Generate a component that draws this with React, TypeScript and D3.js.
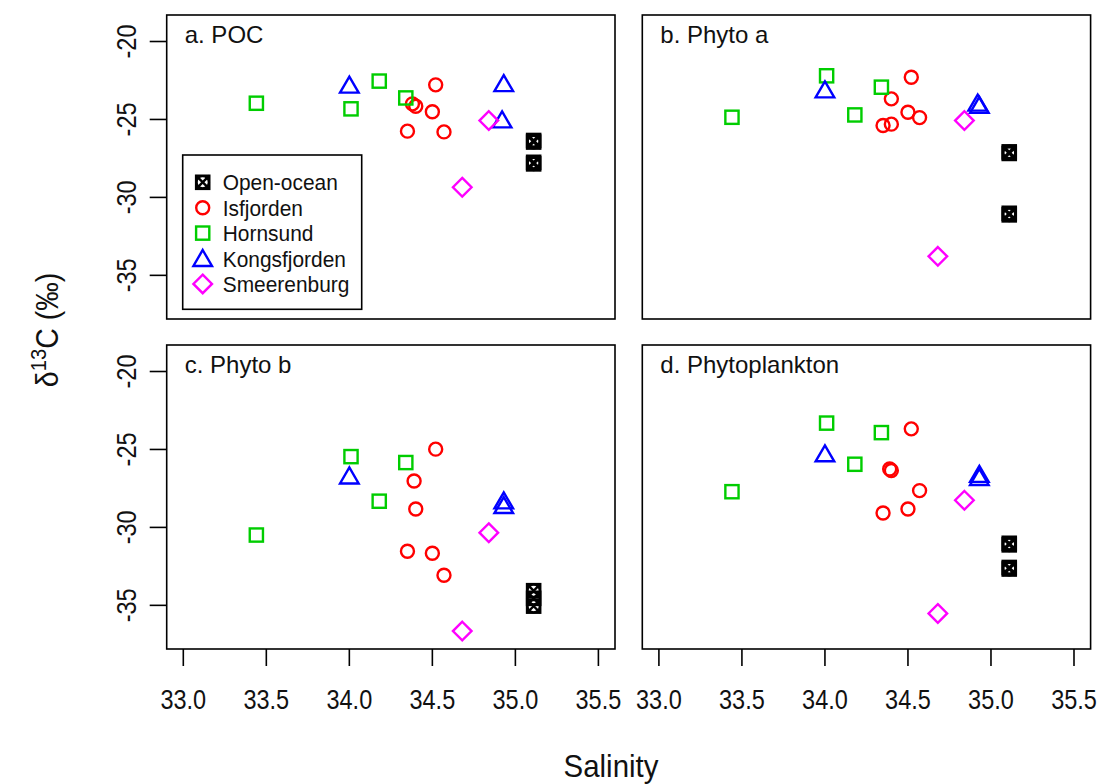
import React from "react";
import * as d3 from "d3";

// ---------- data ----------
const sites = ["Open-ocean", "Isfjorden", "Hornsund", "Kongsfjorden", "Smeerenburg"];
const siteColors = ["#000000", "#ff0000", "#00cd00", "#0000ff", "#ff00ff"];
const siteShapes = ["ocean", "circle", "square", "triangle", "diamond"];

const xTicks = [33.0, 33.5, 34.0, 34.5, 35.0, 35.5];
const yTicks = [-20, -25, -30, -35];
const xDomain = [32.9, 35.6];
const yDomain = [-37.8, -18.3];

type Pt = { site: string; sal: number; d13c: number };

const pocPoints: Pt[] = [
  { site: "Open-ocean", sal: 35.11, d13c: -26.35 },
  { site: "Open-ocean", sal: 35.11, d13c: -26.45 },
  { site: "Open-ocean", sal: 35.11, d13c: -27.75 },
  { site: "Open-ocean", sal: 35.11, d13c: -27.85 },
  { site: "Isfjorden", sal: 34.38, d13c: -24.0 },
  { site: "Isfjorden", sal: 34.4, d13c: -24.15 },
  { site: "Isfjorden", sal: 34.52, d13c: -22.78 },
  { site: "Isfjorden", sal: 34.5, d13c: -24.51 },
  { site: "Isfjorden", sal: 34.35, d13c: -25.75 },
  { site: "Isfjorden", sal: 34.57, d13c: -25.8 },
  { site: "Hornsund", sal: 33.44, d13c: -23.96 },
  { site: "Hornsund", sal: 34.01, d13c: -24.32 },
  { site: "Hornsund", sal: 34.18, d13c: -22.54 },
  { site: "Hornsund", sal: 34.34, d13c: -23.62 },
  { site: "Kongsfjorden", sal: 34.0, d13c: -22.8 },
  { site: "Kongsfjorden", sal: 34.93, d13c: -22.7 },
  { site: "Kongsfjorden", sal: 34.92, d13c: -25.03 },
  { site: "Smeerenburg", sal: 34.84, d13c: -25.07 },
  { site: "Smeerenburg", sal: 34.68, d13c: -29.35 },
];

const phytoAPoints: Pt[] = [
  { site: "Open-ocean", sal: 35.11, d13c: -27.08 },
  { site: "Open-ocean", sal: 35.11, d13c: -27.18 },
  { site: "Open-ocean", sal: 35.11, d13c: -31.02 },
  { site: "Open-ocean", sal: 35.11, d13c: -31.12 },
  { site: "Isfjorden", sal: 34.52, d13c: -22.29 },
  { site: "Isfjorden", sal: 34.4, d13c: -23.68 },
  { site: "Isfjorden", sal: 34.5, d13c: -24.54 },
  { site: "Isfjorden", sal: 34.57, d13c: -24.88 },
  { site: "Isfjorden", sal: 34.35, d13c: -25.39 },
  { site: "Isfjorden", sal: 34.4, d13c: -25.3 },
  { site: "Hornsund", sal: 33.44, d13c: -24.86 },
  { site: "Hornsund", sal: 34.01, d13c: -22.2 },
  { site: "Hornsund", sal: 34.34, d13c: -22.93 },
  { site: "Hornsund", sal: 34.18, d13c: -24.71 },
  { site: "Kongsfjorden", sal: 34.0, d13c: -23.1 },
  { site: "Kongsfjorden", sal: 34.92, d13c: -23.95 },
  { site: "Kongsfjorden", sal: 34.93, d13c: -24.1 },
  { site: "Smeerenburg", sal: 34.84, d13c: -25.07 },
  { site: "Smeerenburg", sal: 34.68, d13c: -33.78 },
];

const phytoBPoints: Pt[] = [
  { site: "Open-ocean", sal: 35.11, d13c: -34.06 },
  { site: "Open-ocean", sal: 35.11, d13c: -34.55 },
  { site: "Open-ocean", sal: 35.11, d13c: -35.05 },
  { site: "Isfjorden", sal: 34.52, d13c: -24.98 },
  { site: "Isfjorden", sal: 34.39, d13c: -27.02 },
  { site: "Isfjorden", sal: 34.4, d13c: -28.82 },
  { site: "Isfjorden", sal: 34.35, d13c: -31.53 },
  { site: "Isfjorden", sal: 34.5, d13c: -31.66 },
  { site: "Isfjorden", sal: 34.57, d13c: -33.07 },
  { site: "Hornsund", sal: 33.44, d13c: -30.49 },
  { site: "Hornsund", sal: 34.01, d13c: -25.46 },
  { site: "Hornsund", sal: 34.34, d13c: -25.84 },
  { site: "Hornsund", sal: 34.18, d13c: -28.32 },
  { site: "Kongsfjorden", sal: 34.0, d13c: -26.7 },
  { site: "Kongsfjorden", sal: 34.93, d13c: -28.3 },
  { site: "Kongsfjorden", sal: 34.93, d13c: -28.6 },
  { site: "Smeerenburg", sal: 34.84, d13c: -30.34 },
  { site: "Smeerenburg", sal: 34.68, d13c: -36.65 },
];

const phytoplanktonPoints: Pt[] = [
  { site: "Open-ocean", sal: 35.11, d13c: -31.02 },
  { site: "Open-ocean", sal: 35.11, d13c: -31.12 },
  { site: "Open-ocean", sal: 35.11, d13c: -32.57 },
  { site: "Open-ocean", sal: 35.11, d13c: -32.67 },
  { site: "Isfjorden", sal: 34.52, d13c: -23.68 },
  { site: "Isfjorden", sal: 34.39, d13c: -26.25 },
  { site: "Isfjorden", sal: 34.4, d13c: -26.35 },
  { site: "Isfjorden", sal: 34.57, d13c: -27.64 },
  { site: "Isfjorden", sal: 34.5, d13c: -28.82 },
  { site: "Isfjorden", sal: 34.35, d13c: -29.08 },
  { site: "Hornsund", sal: 33.44, d13c: -27.71 },
  { site: "Hornsund", sal: 34.01, d13c: -23.31 },
  { site: "Hornsund", sal: 34.34, d13c: -23.92 },
  { site: "Hornsund", sal: 34.18, d13c: -25.95 },
  { site: "Kongsfjorden", sal: 34.0, d13c: -25.28 },
  { site: "Kongsfjorden", sal: 34.93, d13c: -26.6 },
  { site: "Kongsfjorden", sal: 34.93, d13c: -26.8 },
  { site: "Smeerenburg", sal: 34.84, d13c: -28.26 },
  { site: "Smeerenburg", sal: 34.68, d13c: -35.52 },
];

// ---------- layout ----------
const W = 1101;
const H = 784;
const PW = 448.3;
const PH = 304;
const FONT = "'Liberation Sans', Arial, Helvetica, sans-serif";
const SW = 2.4;
const NARROW = 0.87;

const panels = [
  { label: "a. POC", x0: 166.7, y0: 15, data: pocPoints, yAxis: true, xAxis: false, legend: true },
  { label: "b. Phyto a", x0: 642.3, y0: 15, data: phytoAPoints, yAxis: false, xAxis: false, legend: false },
  { label: "c. Phyto b", x0: 166.7, y0: 345, data: phytoBPoints, yAxis: true, xAxis: true, legend: false },
  { label: "d. Phytoplankton", x0: 642.3, y0: 345, data: phytoplanktonPoints, yAxis: false, xAxis: true, legend: false },
];

function Marker({ shape, color, x, y }: { shape: string; color: string; x: number; y: number }) {
  const common = { fill: "none", stroke: color, strokeWidth: SW };
  if (shape === "circle") return <circle cx={x} cy={y} r={6.5} {...common} />;
  if (shape === "square") return <rect x={x - 6.6} y={y - 6.6} width={13.2} height={13.2} {...common} />;
  if (shape === "triangle")
    return <polygon points={`${x},${y - 8.5} ${x + 9.3},${y + 7.5} ${x - 9.3},${y + 7.5}`} {...common} />;
  if (shape === "diamond")
    return <polygon points={`${x},${y - 9.3} ${x + 9.3},${y} ${x},${y + 9.3} ${x - 9.3},${y}`} {...common} />;
  const s = 6.6;
  return (
    <g {...common}>
      <rect x={x - s} y={y - s} width={2 * s} height={2 * s} />
      <line x1={x - s} y1={y - s} x2={x + s} y2={y + s} />
      <line x1={x - s} y1={y + s} x2={x + s} y2={y - s} />
      <circle cx={x} cy={y} r={s - 0.4} />
    </g>
  );
}

function Panel({ p }: { p: (typeof panels)[number] }) {
  const x = d3.scaleLinear().domain(xDomain).range([p.x0, p.x0 + PW]);
  const y = d3.scaleLinear().domain(yDomain).range([p.y0 + PH, p.y0]);
  const bottom = p.y0 + PH;
  return (
    <g>
      <rect x={p.x0} y={p.y0} width={PW} height={PH} fill="none" stroke="#000" strokeWidth={1.6} />
      <text x={p.x0 + 18} y={p.y0 + 27.5} fontSize={24} fontFamily={FONT} fill="#111">
        {p.label}
      </text>
      {p.yAxis &&
        yTicks.map((t) => (
          <g key={t}>
            <line x1={p.x0 - 17} x2={p.x0} y1={y(t)} y2={y(t)} stroke="#000" strokeWidth={1.6} />
            <text
              transform={`translate(${p.x0 - 31},${y(t)}) rotate(-90) scale(${NARROW},1)`}
              textAnchor="middle"
              fontSize={27}
              fontFamily={FONT}
              fill="#111"
            >
              {t}
            </text>
          </g>
        ))}
      {p.xAxis &&
        xTicks.map((t) => (
          <g key={t}>
            <line x1={x(t)} x2={x(t)} y1={bottom} y2={bottom + 17} stroke="#000" strokeWidth={1.6} />
            <text
              transform={`translate(${x(t)},${bottom + 60}) scale(${NARROW},1)`}
              textAnchor="middle"
              fontSize={27}
              fontFamily={FONT}
              fill="#111"
            >
              {t.toFixed(1)}
            </text>
          </g>
        ))}
      {p.data.map((d, i) => {
        const k = sites.indexOf(d.site);
        return <Marker key={i} shape={siteShapes[k]} color={siteColors[k]} x={x(d.sal)} y={y(d.d13c)} />;
      })}
      {p.legend && (
        <g>
          <rect x={182.7} y={155} width={179} height={154.3} fill="#fff" stroke="#000" strokeWidth={1.6} />
          {sites.map((s, i) => {
            const cy = 182.3 + i * 25.4;
            return (
              <g key={s}>
                <Marker shape={siteShapes[i]} color={siteColors[i]} x={202.7} y={cy} />
                <text
                  transform={`translate(222.7,${cy + 8}) scale(0.93,1)`}
                  fontSize={22.5}
                  fontFamily={FONT}
                  fill="#111"
                >
                  {s}
                </text>
              </g>
            );
          })}
        </g>
      )}
    </g>
  );
}

export default function App() {
  return (
    <svg
      width={W}
      height={H}
      viewBox={`0 0 ${W} ${H}`}
      style={{ position: "absolute", left: 0, top: 0, background: "#fff" }}
    >
      <rect x={0} y={0} width={W} height={H} fill="#fff" />
      {panels.map((p) => (
        <Panel key={p.label} p={p} />
      ))}
      <text
        transform="translate(611,777) scale(0.92,1)"
        textAnchor="middle"
        fontSize={32}
        fontFamily={FONT}
        fill="#111"
      >
        Salinity
      </text>
      <text
        transform="translate(58,330) rotate(-90) scale(0.92,1)"
        textAnchor="middle"
        fontSize={31}
        fontFamily={FONT}
        fill="#111"
      >
        δ<tspan fontSize={22} dy={-12}>13</tspan>
        <tspan dy={12}>C  (‰)</tspan>
      </text>
    </svg>
  );
}
